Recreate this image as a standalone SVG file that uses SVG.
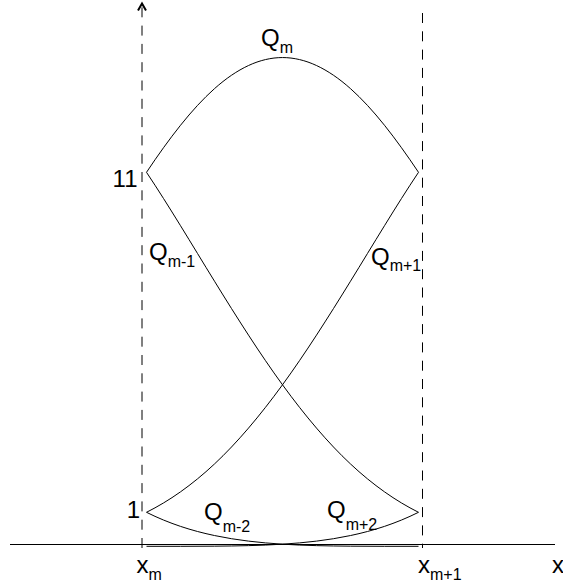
<svg xmlns="http://www.w3.org/2000/svg" width="563" height="585" viewBox="0 0 563 585">
<defs>
<style>
.curve{fill:none;stroke:#000;stroke-width:1}
.axis{fill:none;stroke:#000;stroke-width:1}
.dash{fill:none;stroke:#000;stroke-width:1;stroke-dasharray:10 8.3}
.lbl{font-family:"Liberation Sans",Arial,sans-serif;font-size:24px;fill:#000}
.sub{font-size:16px}
</style>
</defs>
<rect width="563" height="585" fill="#fff"/>
<g id="axes">
<line class="axis" x1="10" y1="544.5" x2="555" y2="544.5"/>
<line class="dash" x1="142" y1="548" x2="142" y2="5"/>
<polyline points="138,10.5 142,3.5 146,10.5" fill="none" stroke="#000" stroke-width="2" stroke-linejoin="miter"/>
<line class="dash" x1="422.5" y1="13" x2="422.5" y2="548"/>
</g>
<g id="connectors">
<path id="Qm" class="curve" d="M146.5,172.3 C169.17,138.3 191.83,108.82 214.5,88.63 C237.17,68.44 259.83,57.55 282.5,57.55 C305.17,57.55 327.83,68.44 350.5,88.63 C373.17,108.82 395.83,138.3 418.5,172.3"/>
<path id="Qm+1" class="curve" d="M146.5,512.3 C169.17,500.97 191.83,485.21 214.5,463.96 C237.17,442.71 259.83,415.97 282.5,384.8 C305.17,353.63 327.83,318.04 350.5,281.21 C373.17,244.38 395.83,206.3 418.5,172.3"/>
<path id="Qm-1" class="curve" d="M146.5,172.3 C169.17,206.3 191.83,244.38 214.5,281.21 C237.17,318.04 259.83,353.63 282.5,384.8 C305.17,415.97 327.83,442.71 350.5,463.96 C373.17,485.21 395.83,500.97 418.5,512.3"/>
<path id="Qm+2" class="curve" d="M146.5,546.3 C169.17,546.3 191.83,546.35 214.5,546.17 C237.17,545.99 259.83,545.6 282.5,544.18 C305.17,542.76 327.83,540.32 350.5,535.54 C373.17,530.76 395.83,523.63 418.5,512.3"/>
<path id="Qm-2" class="curve" d="M146.5,512.3 C169.17,523.63 191.83,530.76 214.5,535.54 C237.17,540.32 259.83,542.76 282.5,544.18 C305.17,545.6 327.83,545.99 350.5,546.17 C373.17,546.35 395.83,546.3 418.5,546.3"/>
</g>
<g id="labels">
<text class="lbl" x="137.5" y="187" text-anchor="end">11</text>
<text class="lbl" x="140" y="518" text-anchor="end">1</text>
<text class="lbl" x="261" y="46">Q<tspan class="sub" dy="6.5">m</tspan></text>
<text class="lbl" x="149" y="260">Q<tspan class="sub" dy="6.5">m-1</tspan></text>
<text class="lbl" x="371" y="264.5">Q<tspan class="sub" dy="6.5">m+1</tspan></text>
<text class="lbl" x="204" y="520">Q<tspan class="sub" dy="12">m-2</tspan></text>
<text class="lbl" x="327" y="518">Q<tspan class="sub" dy="11.5">m+2</tspan></text>
<text class="lbl" x="136.5" y="573">x<tspan class="sub" dy="7">m</tspan></text>
<text class="lbl" x="418" y="573">x<tspan class="sub" dy="7">m+1</tspan></text>
<text class="lbl" x="552" y="573">x</text>
</g>
</svg>
